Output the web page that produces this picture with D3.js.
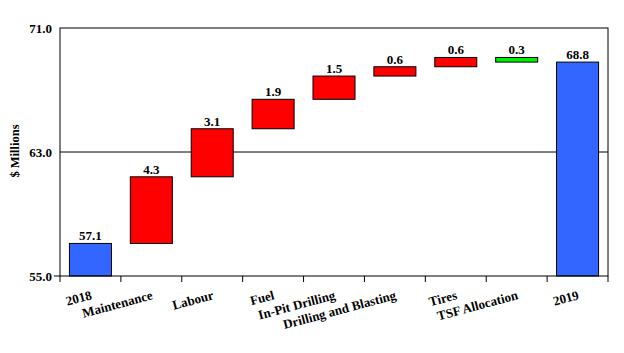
<!DOCTYPE html>
<html>
<head>
<meta charset="utf-8">
<script src="https://cdn.jsdelivr.net/npm/d3@7"></script>
<style>
  body { margin: 0; background: #fff; }
  text { font-family: "Liberation Serif", "Times New Roman", serif; font-weight: bold; }
</style>
</head>
<body>
<svg id="chart" width="624" height="353"></svg>
<script>
// categories and values (deltas; first and last are totals)
var categories = ["2018", "Maintenance", "Labour", "Fuel", "In-Pit Drilling",
                  "Drilling and Blasting", "Tires", "TSF Allocation", "2019"];
var values = [57.1, 4.3, 3.1, 1.9, 1.5, 0.6, 0.6, -0.3, 68.8];
var kinds = ["total", "delta", "delta", "delta", "delta", "delta", "delta", "delta", "total"];
var yTicks = [55.0, 63.0, 71.0];

const margin = {top: 28, right: 16, bottom: 77, left: 60},
    width = 624 - margin.left - margin.right,
    height = 353 - margin.top - margin.bottom;

const svg = d3.select("#chart")
    .append("g")
    .attr("transform", "translate(" + margin.left + "," + margin.top + ")");

var x = d3.scaleBand()
    .domain(categories)
    .range([0, width])
    .paddingInner(0.31)
    .paddingOuter(0.155);

var y = d3.scaleLinear()
    .domain([55, 71])
    .range([height, 0]);

// build running totals
var running = 0;
var bars = categories.map(function(c, i) {
    var d;
    if (kinds[i] === "total") {
        d = {cat: c, y0: 55, y1: values[i], label: values[i].toFixed(1), fill: "#3366FF"};
        running = values[i];
    } else {
        var start = running;
        running = running + values[i];
        d = {cat: c, y0: Math.min(start, running), y1: Math.max(start, running),
             label: Math.abs(values[i]).toFixed(1),
             fill: values[i] >= 0 ? "#FF0000" : "#00EE00"};
    }
    return d;
});

// gridline at middle tick
svg.selectAll(".grid")
    .data(yTicks.slice(1, 2))
    .enter()
    .append("line")
    .attr("x1", 0).attr("x2", width)
    .attr("y1", function(d) { return y(d); })
    .attr("y2", function(d) { return y(d); })
    .attr("stroke", "#000")
    .attr("stroke-width", 1);

// bars
svg.selectAll("rect.bar")
    .data(bars)
    .enter()
    .append("rect")
    .attr("class", "bar")
    .attr("x", function(d) { return x(d.cat); })
    .attr("width", x.bandwidth())
    .attr("y", function(d) { return y(d.y1); })
    .attr("height", function(d) { return y(d.y0) - y(d.y1); })
    .attr("fill", function(d) { return d.fill; })
    .attr("stroke", "#000")
    .attr("stroke-width", 1);

// value labels
svg.selectAll("text.val")
    .data(bars)
    .enter()
    .append("text")
    .attr("class", "val")
    .attr("x", function(d) { return x(d.cat) + x.bandwidth() / 2; })
    .attr("y", function(d) { return y(d.y1) - 3; })
    .attr("text-anchor", "middle")
    .style("font-size", "13px")
    .text(function(d) { return d.label; });

// plot frame
svg.append("rect")
    .attr("x", 0).attr("y", 0)
    .attr("width", width).attr("height", height)
    .attr("fill", "none")
    .attr("stroke", "#000")
    .attr("stroke-width", 1);

// y axis
var yAxis = svg.append("g")
    .call(d3.axisLeft(y).tickValues(yTicks).tickSize(0).tickPadding(8)
        .tickFormat(function(d) { return d.toFixed(1); }));
yAxis.select(".domain").remove();
yAxis.selectAll("text")
    .style("font-family", "Liberation Serif, serif")
    .style("font-weight", "bold")
    .style("font-size", "13px")
    .attr("fill", "#000");

// x axis ticks at band boundaries
var boundaries = d3.range(categories.length + 1).map(function(i) { return i * width / categories.length; });
svg.selectAll(".xtick")
    .data(boundaries)
    .enter()
    .append("line")
    .attr("x1", function(d) { return d; })
    .attr("x2", function(d) { return d; })
    .attr("y1", height)
    .attr("y2", height + 6)
    .attr("stroke", "#000");

svg.append("line")
    .attr("x1", -6).attr("x2", 0)
    .attr("y1", height).attr("y2", height)
    .attr("stroke", "#000");

// x labels, rotated
svg.selectAll("text.xlab")
    .data(categories)
    .enter()
    .append("text")
    .attr("class", "xlab")
    .attr("text-anchor", "end")
    .style("font-size", "13px")
    .attr("transform", function(d) {
        return "translate(" + (x(d) + x.bandwidth() / 2 + 2) + "," + (height + 23) + ") rotate(-15)";
    })
    .text(function(d) { return d; });

// y title
svg.append("text")
    .attr("transform", "translate(" + (-41) + "," + (height / 2 - 1) + ") rotate(-90)")
    .attr("text-anchor", "middle")
    .style("font-size", "12.5px")
    .text("$ Millions");
</script>
</body>
</html>
